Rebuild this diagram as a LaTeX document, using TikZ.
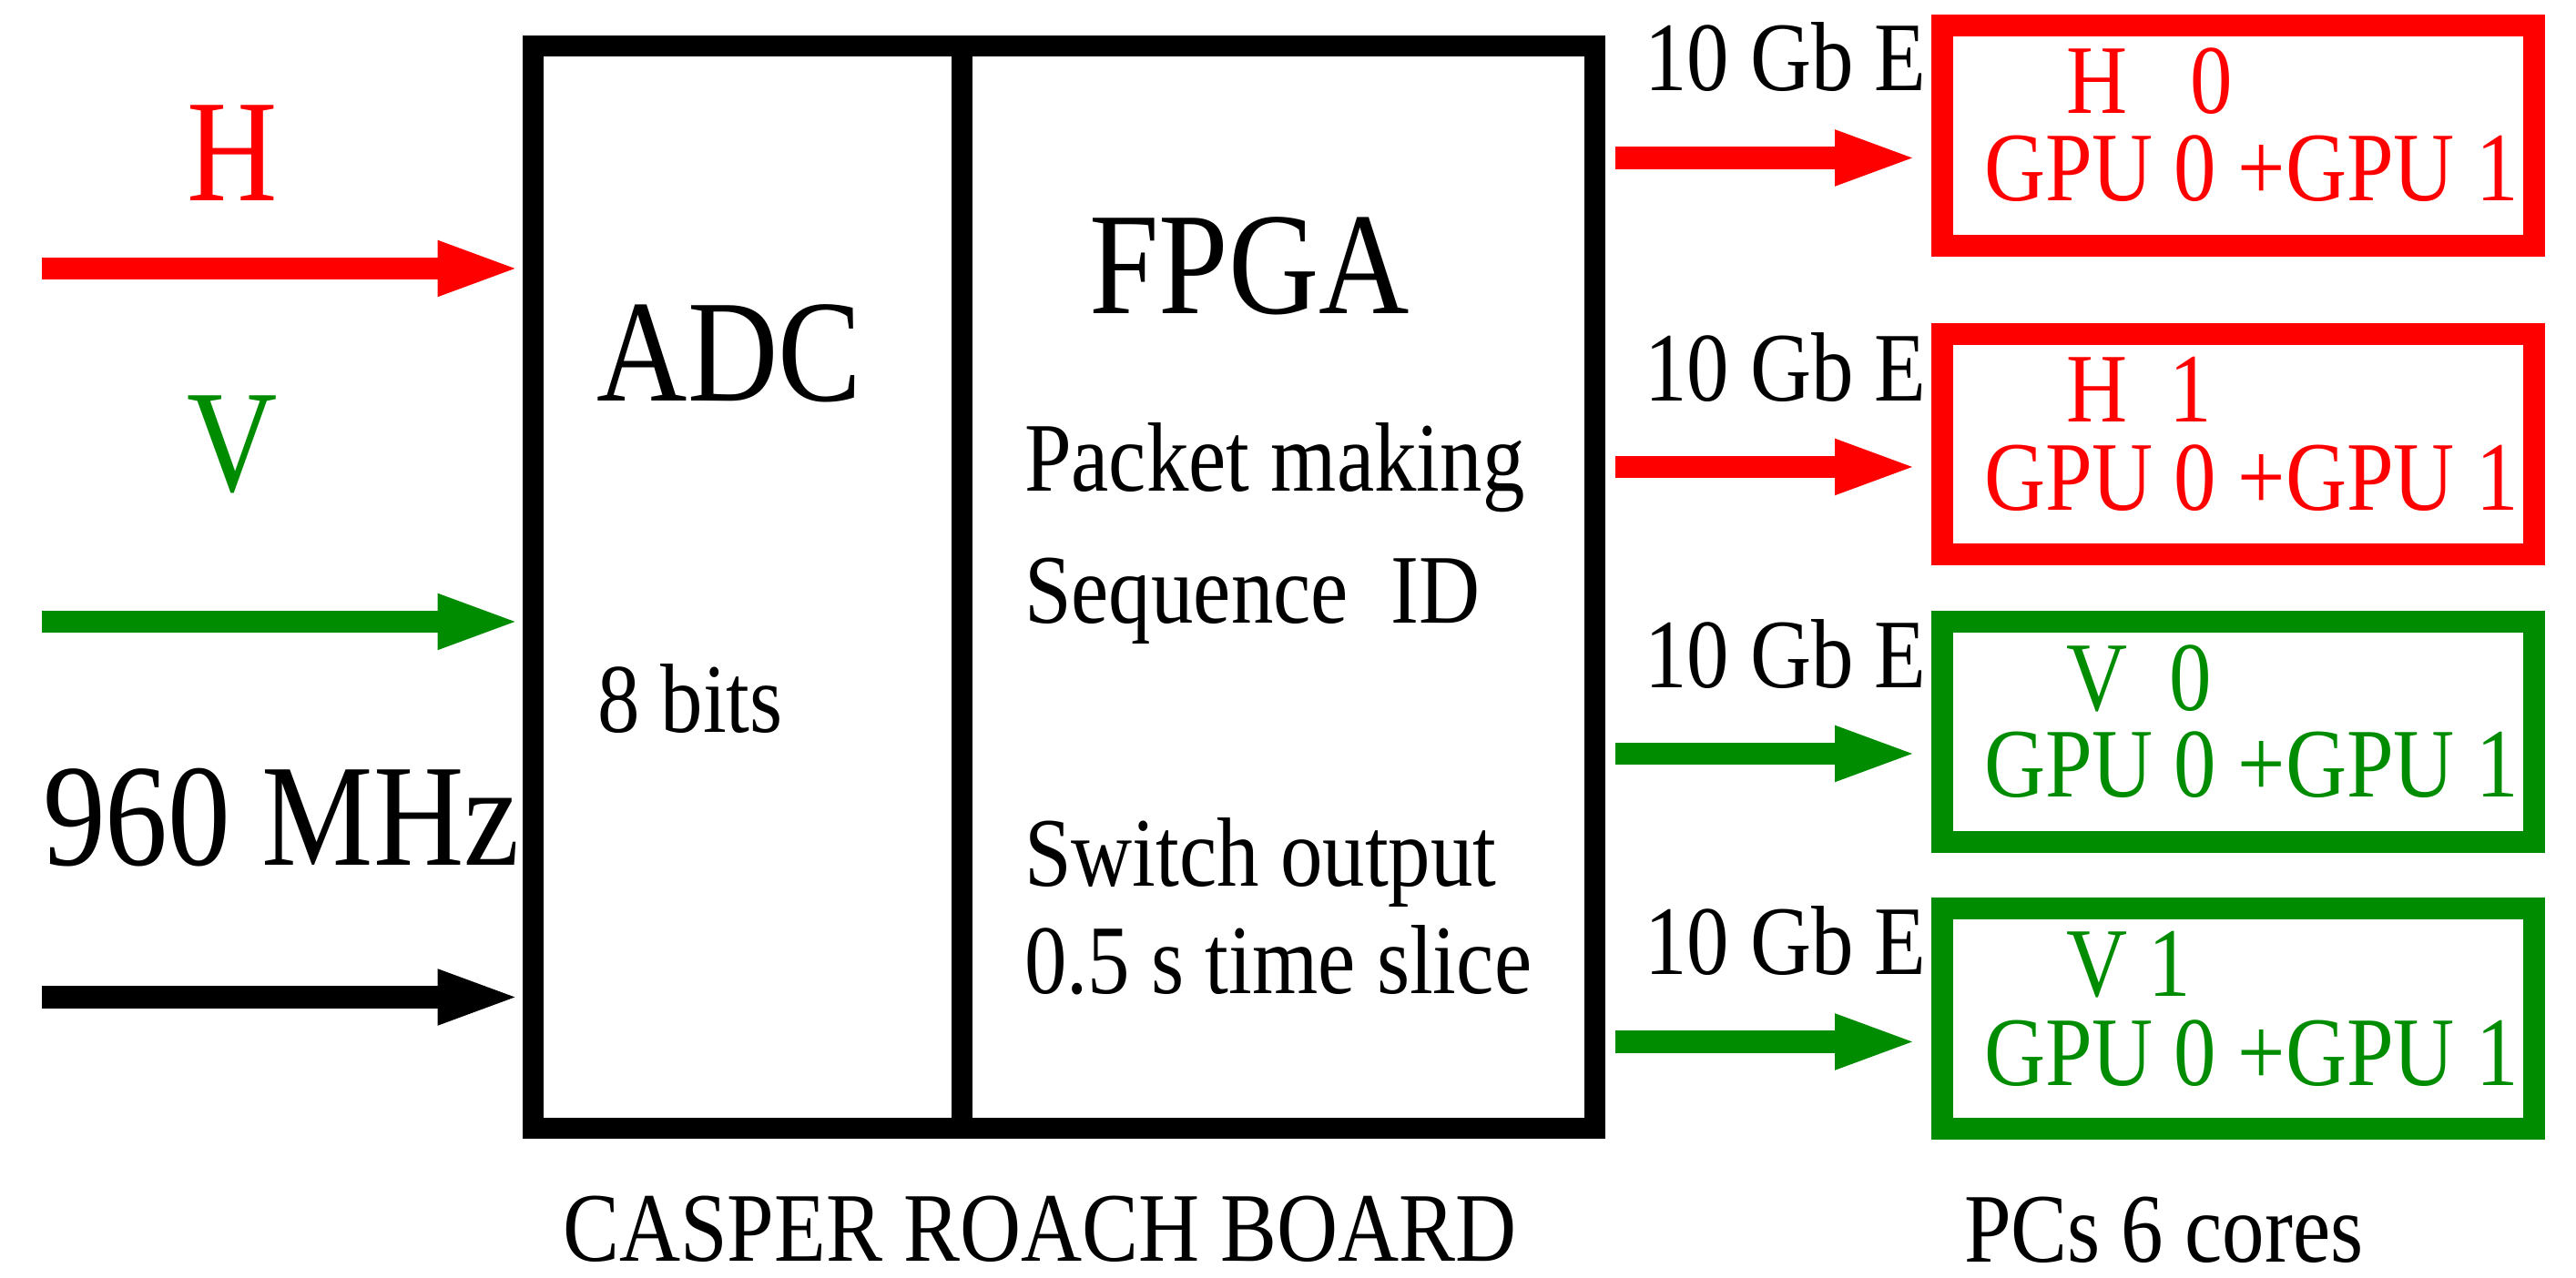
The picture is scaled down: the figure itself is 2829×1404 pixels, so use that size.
\documentclass[tikz,border=0pt]{standalone}
\usepackage{graphicx}
\usepackage{fontspec}
\setmainfont{Liberation Serif}
\usetikzlibrary{arrows.meta,positioning}
\definecolor{hred}{RGB}{255,0,0}
\definecolor{vgreen}{RGB}{0,140,0}
% condensed text, as in the board sketch
\newcommand{\cnd}[1]{\scalebox{0.86}[1]{#1}}

\begin{document}
\begin{tikzpicture}[x=0.1pt,y=-0.1pt,
  box/.style={draw,line width=2.3pt,inner sep=0pt,minimum height=118.9pt},
  pc/.style={draw=#1,line width=2.4pt,inner sep=0pt,minimum width=65pt,minimum height=24.2pt},
  sig/.style={#1,line width=2.45pt,-{Triangle[length=9.3pt,width=5.4pt]}},
  big/.style={font=\fontsize{16}{19}\selectfont,inner sep=0pt},
  small/.style={font=\fontsize{10.8}{13}\selectfont,inner sep=0pt}]
  \useasboundingbox (0,0) rectangle (2829,1404);
  % inputs
  \node[big,hred,anchor=base]    (hlab) at (255,221) {\cnd{H}};
  \node[big,vgreen,anchor=base]  (vlab) at (255,540) {\cnd{V}};
  \node[big,anchor=base west]    (clk)  at (45,951)  {\cnd{960 MHz}};
  % roach board: adc + fpga
  \node[box,minimum width=47.1pt] (adc)  at (820.5,645.5)  {};
  \node[box,minimum width=69.5pt] (fpga) at (1403.5,645.5) {};
  \node[big,anchor=base]         (adclab)  at (801,441)  {\cnd{ADC}};
  \node[small,anchor=base west]  (bits)    at (654,805)  {\cnd{8 bits}};
  \node[big,anchor=base]         (fpgalab) at (1372,345) {\cnd{FPGA}};
  \node[small,anchor=base west]  (pack)    at (1123,540)  {\cnd{Packet making}};
  \node[small,anchor=base west]  (seq)     at (1123,685)  {\cnd{Sequence\ \ ID}};
  \node[small,anchor=base west]  (swi)     at (1123,974)  {\cnd{Switch output}};
  \node[small,anchor=base west]  (slice)   at (1123,1092) {\cnd{0.5 s time slice}};
  \node[small,anchor=base]       (board)   at (1142,1386) {\cnd{CASPER ROACH BOARD}};
  % input lines
  \coordinate (hin) at (46,295);
  \coordinate (vin) at (46,683);
  \coordinate (cin) at (46,1095.5);
  \draw[sig=hred]   (hin) -- (adc.west |- hin);
  \draw[sig=vgreen] (vin) -- (adc.west |- vin);
  \draw[sig=black]  (cin) -- (adc.west |- cin);
  % pcs
  \node[pc=hred]   (h0) at (2458,149)    {};
  \node[pc=hred]   (h1) at (2458,488.5)  {};
  \node[pc=vgreen] (v0) at (2458,804)    {};
  \node[pc=vgreen] (v1) at (2458,1119.5) {};
  \node[small,hred,anchor=base west]   (h0a) at (2267,125)  {\cnd{H\ \ \ 0}};
  \node[small,hred,anchor=base west]   (h0b) at (2177,221)  {\cnd{GPU 0 +GPU 1}};
  \node[small,hred,anchor=base west]   (h1a) at (2267,464)  {\cnd{H\ \ 1}};
  \node[small,hred,anchor=base west]   (h1b) at (2177,561)  {\cnd{GPU 0 +GPU 1}};
  \node[small,vgreen,anchor=base west] (v0a) at (2267,781)  {\cnd{V\ \ 0}};
  \node[small,vgreen,anchor=base west] (v0b) at (2177,876)  {\cnd{GPU 0 +GPU 1}};
  \node[small,vgreen,anchor=base west] (v1a) at (2267,1095) {\cnd{V 1}};
  \node[small,vgreen,anchor=base west] (v1b) at (2177,1193) {\cnd{GPU 0 +GPU 1}};
  \node[small,anchor=base west] (pcs) at (2155,1387) {\cnd{PCs 6 cores}};
  % 10 GbE links
  \foreach \t/\y/\c/\b in {h0/173.5/hred/100,h1/513/hred/441,v0/828/vgreen/756,v1/1144.5/vgreen/1071}{
    \coordinate (\t link) at (0,\y);
    \node[small,anchor=base west] (\t gbe) at (1804,\b) {\cnd{10 Gb E}};
    \draw[sig=\c,shorten <=1.1pt,shorten >=1.3pt] (fpga.east |- \t link) -- (\t.west |- \t link);
  }
\end{tikzpicture}
\end{document}
